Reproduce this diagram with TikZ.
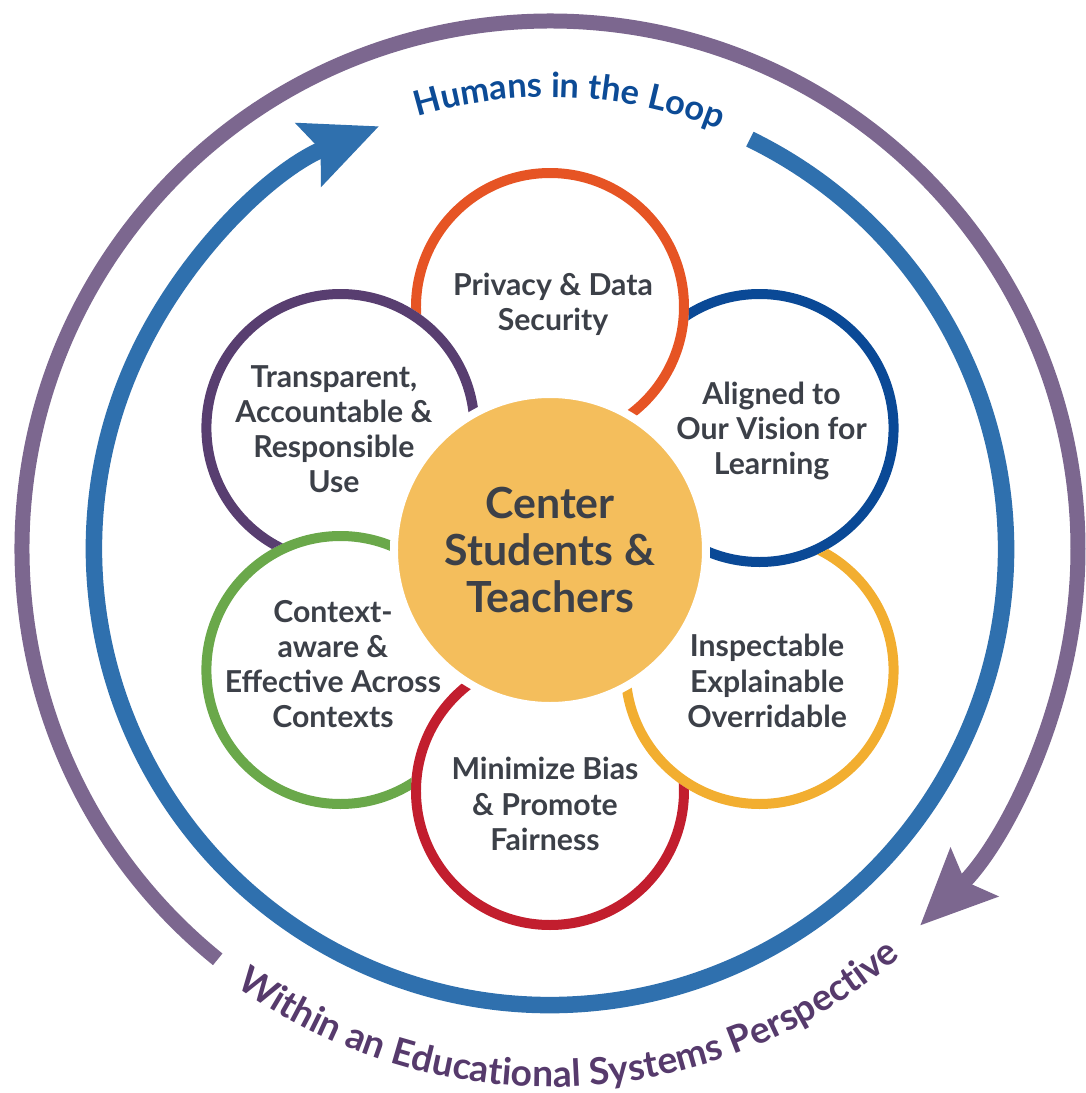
\documentclass[tikz,border=0pt]{standalone}
\usepackage{fontspec}
\setmainfont{Lato}
\usepackage{tikz}
\definecolor{privacyorange}{RGB}{230,84,36}
\definecolor{visionblue}{RGB}{10,73,150}
\definecolor{inspectyellow}{RGB}{242,174,48}
\definecolor{biasred}{RGB}{194,30,46}
\definecolor{contextgreen}{RGB}{106,168,74}
\definecolor{transppurple}{RGB}{88,62,112}
\definecolor{centeryellow}{RGB}{244,190,92}
\definecolor{loopblue}{RGB}{47,112,174}
\definecolor{systempurple}{RGB}{124,103,143}
\definecolor{looptext}{RGB}{12,75,150}
\definecolor{systemtext}{RGB}{86,58,108}
\definecolor{textgray}{RGB}{60,64,72}
\usetikzlibrary{arrows.meta, decorations.text}
\tikzset{ring/.style = {line width=1mm},
         petal/.style = {align=center, text=textgray, font=\bfseries\fontsize{8.6}{10}\selectfont},
         bigarrow/.style = {-{Stealth[length=7.5mm, width=6.6mm, inset=1.2mm]}}}

\begin{document}
\begin{tikzpicture}
      \useasboundingbox (-5.50,-5.44) rectangle (5.36,5.49);
      \coordinate (privacy) at (90:2.42);
      \coordinate (vision) at (30:2.42);
      \coordinate (inspect) at (-30:2.42);
      \coordinate (bias) at (-90:2.42);
      \coordinate (context) at (-150:2.42);
      \coordinate (transparent) at (150:2.42);
      \begin{scope}[even odd rule]
        \clip (-6,-6) rectangle (6,6) (transparent) circle (1.39);
        \draw [ring, privacyorange] (privacy) circle (1.34);
      \end{scope}
      \begin{scope}[even odd rule]
        \clip (-6,-6) rectangle (6,6) (privacy) circle (1.39);
        \draw [ring, visionblue] (vision) circle (1.34);
      \end{scope}
      \begin{scope}[even odd rule]
        \clip (-6,-6) rectangle (6,6) (vision) circle (1.39);
        \draw [ring, inspectyellow] (inspect) circle (1.34);
      \end{scope}
      \begin{scope}[even odd rule]
        \clip (-6,-6) rectangle (6,6) (inspect) circle (1.39);
        \draw [ring, biasred] (bias) circle (1.34);
      \end{scope}
      \begin{scope}[even odd rule]
        \clip (-6,-6) rectangle (6,6) (bias) circle (1.39);
        \draw [ring, contextgreen] (context) circle (1.34);
      \end{scope}
      \begin{scope}[even odd rule]
        \clip (-6,-6) rectangle (6,6) (context) circle (1.39);
        \draw [ring, transppurple] (transparent) circle (1.34);
      \end{scope}
      \node [circle, fill=centeryellow, draw=white, line width=0.8mm, minimum size=3.12cm,
             inner sep=0pt, align=center, text=textgray,
             font=\bfseries\fontsize{12.2}{13.4}\selectfont] (students) at (0,-0.01)
             {Center\\Students \&\\Teachers};
      \node [petal] (privacylabel) at ([shift={(0.03,0.03)}]privacy) {Privacy \& Data\\Security};
      \node [petal] (visionlabel) at ([shift={(0.12,-0.03)}]vision) {Aligned to\\Our Vision for\\Learning};
      \node [petal] (inspectlabel) at ([shift={(0.075,-0.11)}]inspect) {Inspectable\\Explainable\\Overridable};
      \node [petal] (biaslabel) at ([shift={(-0.05,-0.13)}]bias) {Minimize Bias\\\& Promote\\Fairness};
      \node [petal] (contextlabel) at ([shift={(-0.075,0.06)}]context) {Context-\\aware \&\\Effective Across\\Contexts};
      \node [petal] (transparentlabel) at ([shift={(-0.065,-0.01)}]transparent) {Transparent,\\Accountable \&\\Responsible\\Use};
      \draw [bigarrow, loopblue, line width=1.65mm] (64:4.56) arc (64:-248:4.56);
      \draw [bigarrow, systempurple, line width=1.5mm] (231:5.28) arc (231:-45.5:5.28);
      \path [decorate, decoration={text along path, text align=center, text color=looptext,
          text={|\bfseries\fontsize{9.8}{11}\selectfont|Humans in the Loop}}]
        (130:4.52) arc (130:45:4.52);
      \path [decorate, decoration={text along path, text align=center, text color=systemtext,
          text={|\bfseries\fontsize{10.6}{12}\selectfont|Within an Educational Systems Perspective}}]
        (-150:5.38) arc (-150:-25:5.38);
    \end{tikzpicture}
\end{document}
